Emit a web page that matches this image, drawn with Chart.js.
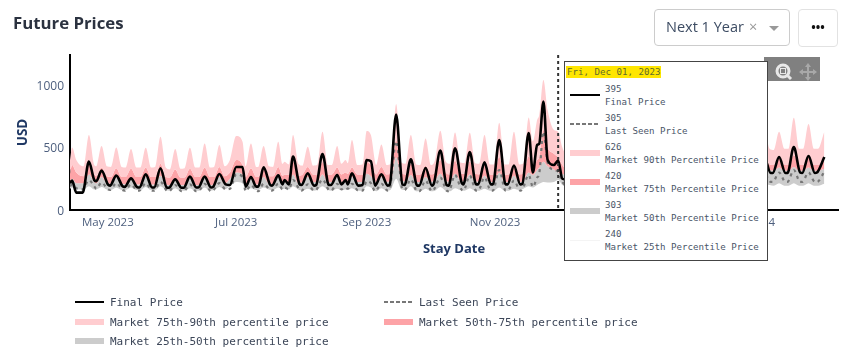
<!DOCTYPE html>
<html>
<head>
<meta charset="utf-8">
<title>Future Prices</title>
<script src="https://cdn.jsdelivr.net/npm/chart.js@4"></script>
<style>
    html, body { margin: 0; padding: 0; background: #fff; width: 858px; height: 355px; overflow: hidden; }
    body { position: relative; font-family: "Open Sans", sans-serif; }
    canvas { position: absolute; left: 0; top: 0; }
    .abs { position: absolute; white-space: nowrap; }
    #title { left: 13px; top: 11px; font-size: 16.8px; font-weight: 700; color: #2b3240; }
    #select { left: 654px; top: 9px; width: 134px; height: 35px; border: 1px solid #ccc; border-radius: 4px; }
    #selectText { left: 666px; top: 17px; font-size: 14.5px; color: #3d4c63; }
    #selectX { left: 749px; top: 17px; font-size: 14.5px; color: #999; }
    #selectArrow { left: 769px; top: 26px; border-left: 5px solid transparent; border-right: 5px solid transparent; border-top: 5px solid #999; }
    #more { left: 798px; top: 9px; width: 38px; height: 36px; border: 1px solid #e2e2e2; border-radius: 4px; text-align: center; font-size: 12px; line-height: 36px; color: #111; font-weight: 700; letter-spacing: 0; }
    #modebar { left: 764px; top: 57px; width: 56px; height: 24px; background: #808080; }
    #legend div, #tip div { font-family: "DejaVu Sans Mono", monospace; }
    .legendText { font-size: 11px; color: #3c4658; line-height: 14px; }
    #tip { left: 564px; top: 61px; width: 202px; height: 198px; background: #fff; border: 1px solid #444; }
    .tipText { font-size: 9.15px; color: #4a5568; line-height: 12px; }
    #tipDate { left: 1px; top: 4px; height: 12px; background: #ffe600; font-size: 9.15px; line-height: 12px; padding: 0 1px; color: #5f6b2a; }
</style>
</head>
<body>
<canvas id="FuturePrices" width="858" height="355"></canvas>
<div class="abs" id="title">Future Prices</div>
<div class="abs" id="select"></div>
<div class="abs" id="selectText">Next 1 Year</div>
<div class="abs" id="selectX">×</div>
<div class="abs" id="selectArrow"></div>
<div class="abs" id="more">•••</div>
<div class="abs" id="modebar">
    <svg width="56" height="24" viewBox="0 0 56 24">
        <circle cx="19" cy="14" r="6" fill="none" stroke="#e8e8e8" stroke-width="3"/>
        <rect x="16.5" y="11.5" width="5" height="5" fill="none" stroke="#e8e8e8"/>
        <line x1="23" y1="18" x2="27" y2="22" stroke="#e8e8e8" stroke-width="3"/>
        <path d="M44 8 V22 M37 15 H51" stroke="#a8a8a8" stroke-width="2"/>
        <path d="M44 6 L41 10 H47 Z M44 24 L41 20 H47 Z M35 15 L39 12 V18 Z M53 15 L49 12 V18 Z" fill="#a8a8a8"/>
    </svg>
</div>
<div id="legend"></div>
<div class="abs" id="tip"></div>

<script>
// days since Apr 13 2023
const lineDays = [
    0, 1, 3, 6, 9, 11.5, 12.5, 15, 18, 19, 22, 25,
    26, 29, 32, 33, 36, 39, 40, 43, 46, 47, 50, 53,
    54, 57, 60, 61, 64, 67, 68, 71, 74, 76, 79, 82,
    83.5, 86, 88.5, 89.5, 92, 95, 96, 99, 101, 102, 104, 106, 109,
    110, 113, 116, 117, 120, 123, 124, 127, 129, 131, 132, 134, 137,
    139, 141, 143, 145, 148, 151, 152, 155, 158, 159, 162, 165,
    166, 169, 172, 173, 176, 179, 180, 183, 186, 187, 190, 193,
    194, 197, 200, 201, 204, 207, 208, 211, 214, 215, 218, 220,
    222, 223, 225, 227, 230, 232, 234,
    237, 239, 244, 246, 251, 253, 258, 260, 265, 267, 272, 274, 279, 281,
    286, 288, 293, 295, 300, 302, 307, 309, 314, 316, 321, 323, 328, 330,
    333, 334, 337, 340, 341, 344, 347, 348, 351, 354, 355, 358.5,
];
// the percentile bands have narrower peaks than the price lines
const bandDays = [
    0, 1, 3, 6.5, 9, 11.5, 12.5, 15, 17.5, 19.5, 22, 24.5,
    26.5, 29, 31.5, 33.5, 36, 38.5, 40.5, 43, 45.5, 47.5, 50, 52.5,
    54.5, 57, 59.5, 61.5, 64, 66.5, 68.5, 71, 73.5, 76, 79, 82,
    83.5, 86, 88.5, 89.5, 92, 94.5, 96.5, 99, 101, 102, 104, 106, 108.5,
    110.5, 113, 115.5, 117.5, 120, 122.5, 124.5, 127, 129, 131, 132, 134, 136.5,
    139, 141, 143, 145.5, 148, 150.5, 152.5, 155, 157.5, 159.5, 162, 164.5,
    166.5, 169, 171.5, 173.5, 176, 178.5, 180.5, 183, 185.5, 187.5, 190, 192.5,
    194.5, 197, 199.5, 201.5, 204, 206.5, 208.5, 211, 213.5, 215.5, 218, 220,
    222, 223, 225, 227, 230, 232, 234,
    237, 239, 244, 246, 251, 253, 258, 260, 265, 267, 272, 274, 279, 281,
    286, 288, 293, 295, 300, 302, 307, 309, 314, 316, 321, 323, 328, 330,
    332.5, 334.5, 337, 339.5, 341.5, 344, 346.5, 348.5, 351, 353.5, 355.5, 358.5,
];
const finalPrice = [
    215, 235, 139, 139, 387, 240, 230, 315, 205, 195, 275, 190,
    185, 253, 182, 180, 285, 180, 180, 333, 180, 178, 245, 178,
    178, 267, 180, 180, 267, 180, 185, 288, 205, 200, 344, 344,
    187, 264, 187, 187, 341, 205, 195, 277, 205, 240, 205, 427, 210,
    200, 293, 195, 200, 448, 200, 200, 280, 205, 240, 205, 293, 195,
    200, 400, 390, 195, 285, 195, 205, 763, 205, 200, 405, 195,
    195, 336, 195, 215, 475, 200, 195, 493, 225, 205, 464, 205,
    205, 381, 205, 205, 560, 205, 205, 355, 205, 210, 616, 300,
    520, 530, 867, 400, 360, 395, 250,
    240, 410, 235, 390, 240, 430, 230, 380, 235, 400, 245, 420, 240, 395,
    245, 405, 250, 420, 255, 390, 260, 430, 265, 410, 270, 440, 285, 420,
    296, 296, 424, 296, 296, 504, 300, 296, 432, 296, 300, 424,
];
const lastSeenPrice = [
    190, 205, 175, 165, 240, 190, 170, 220, 165, 160, 215, 160,
    155, 205, 155, 155, 215, 155, 155, 225, 155, 150, 200, 150,
    150, 205, 150, 150, 210, 150, 155, 215, 165, 170, 285, 265,
    150, 200, 155, 150, 210, 160, 155, 210, 165, 180, 165, 240, 165,
    155, 205, 155, 160, 245, 160, 155, 210, 165, 180, 170, 210, 155,
    155, 230, 215, 150, 210, 155, 170, 550, 165, 160, 245, 150,
    150, 235, 150, 165, 260, 155, 150, 280, 165, 155, 275, 155,
    155, 260, 155, 155, 320, 155, 155, 235, 155, 165, 280, 185,
    260, 290, 627, 380, 320, 305, 225,
    190, 270, 185, 260, 190, 280, 180, 250, 185, 265, 195, 275, 190, 260,
    195, 265, 195, 270, 200, 260, 205, 280, 210, 270, 215, 285, 220, 290,
    225, 225, 300, 225, 225, 320, 225, 225, 300, 225, 225, 305,
];
const market90 = [
    400, 500, 400, 350, 600, 360, 350, 512, 350, 345, 500, 345,
    340, 488, 340, 340, 498, 340, 345, 586, 340, 325, 488, 330,
    335, 498, 340, 340, 533, 340, 345, 520, 350, 400, 592, 547,
    350, 533, 345, 345, 512, 350, 345, 547, 370, 387, 365, 600, 370,
    355, 507, 355, 360, 627, 360, 360, 512, 370, 400, 375, 560, 360,
    365, 632, 600, 360, 525, 360, 370, 848, 380, 370, 600, 365,
    360, 573, 360, 400, 635, 390, 370, 621, 380, 375, 619, 375,
    370, 600, 365, 365, 699, 365, 365, 627, 365, 375, 741, 550,
    720, 760, 1040, 800, 640, 626, 500,
    430, 620, 425, 600, 440, 640, 420, 590, 430, 610, 450, 630, 435, 605,
    440, 615, 445, 625, 455, 600, 460, 650, 465, 620, 470, 660, 480, 640,
    490, 480, 626, 490, 490, 739, 490, 490, 688, 490, 490, 626,
];
const market75 = [
    290, 360, 300, 270, 390, 290, 270, 340, 270, 265, 335, 265,
    265, 330, 265, 265, 340, 265, 265, 370, 265, 260, 325, 260,
    260, 330, 265, 265, 340, 265, 265, 345, 270, 300, 400, 360,
    265, 335, 265, 265, 345, 270, 270, 345, 275, 285, 280, 390, 275,
    285, 345, 285, 285, 385, 285, 285, 340, 285, 300, 290, 340, 285,
    285, 385, 360, 285, 345, 285, 290, 560, 290, 285, 370, 285,
    285, 355, 285, 300, 400, 300, 285, 395, 295, 290, 390, 290,
    285, 370, 285, 285, 425, 285, 285, 370, 285, 290, 430, 350,
    400, 420, 640, 500, 450, 420, 360,
    320, 395, 315, 385, 325, 400, 310, 380, 315, 390, 330, 400, 320, 385,
    325, 390, 330, 400, 335, 385, 340, 405, 345, 395, 350, 410, 355, 410,
    365, 360, 420, 360, 360, 440, 360, 360, 425, 360, 360, 420,
];
const market50 = [
    225, 250, 215, 215, 285, 225, 215, 265, 215, 210, 260, 210,
    205, 255, 205, 205, 265, 205, 205, 275, 205, 200, 250, 200,
    200, 255, 200, 200, 260, 200, 205, 265, 210, 250, 300, 285,
    205, 255, 205, 205, 265, 210, 205, 265, 215, 225, 215, 285, 215,
    225, 265, 225, 225, 285, 225, 225, 265, 225, 235, 230, 265, 225,
    225, 290, 270, 225, 265, 225, 230, 420, 235, 230, 280, 225,
    225, 265, 225, 240, 290, 230, 225, 290, 235, 230, 285, 230,
    225, 275, 225, 225, 300, 225, 225, 275, 225, 235, 300, 280,
    320, 340, 387, 350, 325, 303, 290,
    260, 305, 255, 300, 265, 310, 250, 295, 255, 300, 270, 310, 260, 300,
    265, 305, 270, 310, 275, 300, 285, 315, 295, 315, 300, 325, 310, 330,
    320, 315, 340, 315, 315, 345, 315, 315, 340, 315, 315, 330,
];
const market25 = [
    170, 180, 165, 165, 190, 165, 165, 185, 165, 160, 180, 160,
    160, 180, 160, 160, 185, 160, 160, 190, 160, 155, 175, 155,
    155, 175, 155, 155, 180, 155, 160, 185, 165, 190, 225, 215,
    160, 175, 160, 160, 180, 165, 160, 180, 165, 170, 165, 190, 165,
    155, 170, 155, 160, 190, 160, 155, 170, 160, 165, 160, 175, 155,
    155, 190, 180, 150, 175, 155, 165, 250, 165, 160, 190, 150,
    150, 170, 150, 155, 185, 155, 150, 175, 160, 155, 175, 155,
    155, 170, 155, 155, 180, 155, 155, 170, 160, 170, 190, 180,
    200, 210, 225, 220, 225, 240, 200,
    180, 210, 175, 205, 185, 215, 175, 200, 180, 205, 190, 215, 185, 205,
    185, 205, 185, 210, 190, 205, 190, 210, 195, 210, 195, 215, 195, 215,
    200, 195, 215, 195, 195, 215, 195, 195, 215, 195, 195, 210,
];
const tickDays = [18, 79, 141, 202, 263, 323];
const tickLabels = ["May 2023", "Jul 2023", "Sep 2023", "Nov 2023", "Jan 2024", "Mar 2024"];
const yTicks = [0, 500, 1000];
const hoverDay = 232;
const hoverDate = "Fri, Dec 01, 2023";
const hoverValues = [395, 305, 626, 420, 303, 240];
const hoverNames = ["Final Price", "Last Seen Price", "Market 90th Percentile Price", "Market 75th Percentile Price", "Market 50th Percentile Price", "Market 25th Percentile Price"];
const legendNames = ["Final Price", "Last Seen Price", "Market 75th-90th percentile price", "Market 50th-75th percentile price", "Market 25th-50th percentile price"];

const pink = "rgb(255,205,208)";
const red = "rgb(253,163,167)";
const grey = "rgb(204,204,204)";
const tickColor = "#4d5f7e";
const navy = "#1f3864";

function punkte(tage, werte) {
    return tage.map((tag, i) => ({ x: tag, y: werte[i] }));
}

const hoverLine = {
    id: "hoverLine",
    afterDatasetsDraw(chart) {
        const x = chart.scales.x.getPixelForValue(hoverDay);
        const ctx = chart.ctx;
        ctx.save();
        ctx.strokeStyle = "#333";
        ctx.lineWidth = 2;
        ctx.setLineDash([3, 3]);
        ctx.beginPath();
        ctx.moveTo(x, chart.chartArea.top);
        ctx.lineTo(x, chart.chartArea.bottom);
        ctx.stroke();
        ctx.restore();
    },
};

const band = {
    pointRadius: 0,
    borderWidth: 0,
    cubicInterpolationMode: "monotone",
};

new Chart(document.getElementById("FuturePrices"), {
    type: "line",
    data: {
        datasets: [
            { label: "Final Price", data: punkte(lineDays, finalPrice), borderColor: "#000", borderWidth: 2.6, pointRadius: 0, cubicInterpolationMode: "monotone" },
            { label: "Last Seen Price", data: punkte(lineDays, lastSeenPrice), borderColor: "#777", borderWidth: 2.2, borderDash: [3, 4], pointRadius: 0, cubicInterpolationMode: "monotone" },
            { ...band, label: "Market 90th", data: punkte(bandDays, market90), backgroundColor: pink, fill: "+1" },
            { ...band, label: "Market 75th", data: punkte(bandDays, market75), backgroundColor: red, fill: "+1" },
            { ...band, label: "Market 50th", data: punkte(bandDays, market50), backgroundColor: grey, fill: "+1" },
            { ...band, label: "Market 25th", data: punkte(bandDays, market25), fill: false },
        ],
    },
    options: {
        responsive: false,
        animation: false,
        events: [],
        layout: { padding: { top: 55, right: 20 } },
        plugins: {
            legend: { display: false },
            tooltip: { enabled: false },
        },
        scales: {
            x: {
                type: "linear",
                min: 0,
                max: 365,
                grid: { display: false },
                border: { color: "#000", width: 2 },
                afterBuildTicks(scale) {
                    scale.ticks = tickDays.map((tag) => ({ value: tag }));
                },
                afterFit(scale) {
                    scale.height = 145;
                },
                ticks: {
                    autoSkip: false,
                    maxRotation: 0,
                    padding: -2,
                    color: tickColor,
                    font: { family: "Open Sans", size: 11.5 },
                    callback: (wert) => tickLabels[tickDays.indexOf(wert)],
                },
                title: {
                    display: true,
                    text: "Stay Date",
                    color: navy,
                    font: { family: "Open Sans", size: 13, weight: "bold" },
                    padding: { top: 0, bottom: 98 },
                },
            },
            y: {
                min: 0,
                max: 1240,
                grid: { display: false },
                border: { color: "#000", width: 2 },
                afterBuildTicks(scale) {
                    scale.ticks = yTicks.map((wert) => ({ value: wert }));
                },
                afterFit(scale) {
                    scale.width = 70;
                },
                ticks: {
                    padding: -2,
                    labelOffset: 1.5,
                    color: tickColor,
                    font: { family: "Open Sans", size: 12 },
                    callback: (wert) => String(wert),
                },
                title: {
                    display: true,
                    text: "USD",
                    color: navy,
                    font: { family: "Open Sans", size: 13.5, weight: "bold" },
                    padding: { top: 15, bottom: 15 },
                },
            },
        },
    },
    plugins: [hoverLine],
});

// kleines Muster fuer Legende und Tooltip
function muster(x, y, art) {
    const el = document.createElement("div");
    el.className = "abs";
    el.style.left = x + "px";
    el.style.width = (art.breite || 29) + "px";
    el.style.top = y - art.hoehe / 2 + "px";
    el.style.height = art.hoehe + "px";
    el.style.background = art.farbe;
    return el;
}

const arten = [
    { hoehe: 2, farbe: "#000" },
    { hoehe: 2, farbe: "repeating-linear-gradient(90deg, #777 0 4px, transparent 4px 6px)" },
    { hoehe: 6, farbe: pink },
    { hoehe: 6, farbe: red },
    { hoehe: 6, farbe: grey },
    { hoehe: 1, farbe: "#f4f4f4" },
];

const legend = document.getElementById("legend");
const legendPlatz = [[75, 302], [384, 302], [75, 322], [384, 322], [75, 341]];
legendNames.forEach((name, i) => {
    const [x, y] = legendPlatz[i];
    legend.appendChild(muster(x, y, arten[i]));
    const text = document.createElement("div");
    text.className = "abs legendText";
    text.style.left = x + 35 + "px";
    text.style.top = y - 6 + "px";
    text.textContent = name;
    legend.appendChild(text);
});

const tip = document.getElementById("tip");
const datum = document.createElement("div");
datum.className = "abs";
datum.id = "tipDate";
datum.textContent = hoverDate;
tip.appendChild(datum);
hoverNames.forEach((name, i) => {
    const y = 27 + i * 29;
    tip.appendChild(muster(5, y + 6, { ...arten[i], breite: 30 }));
    [hoverValues[i], name].forEach((zeile, j) => {
        const text = document.createElement("div");
        text.className = "abs tipText";
        text.style.left = "40px";
        text.style.top = y - 6 + j * 13 + "px";
        text.textContent = zeile;
        tip.appendChild(text);
    });
});
</script>
</body>
</html>
